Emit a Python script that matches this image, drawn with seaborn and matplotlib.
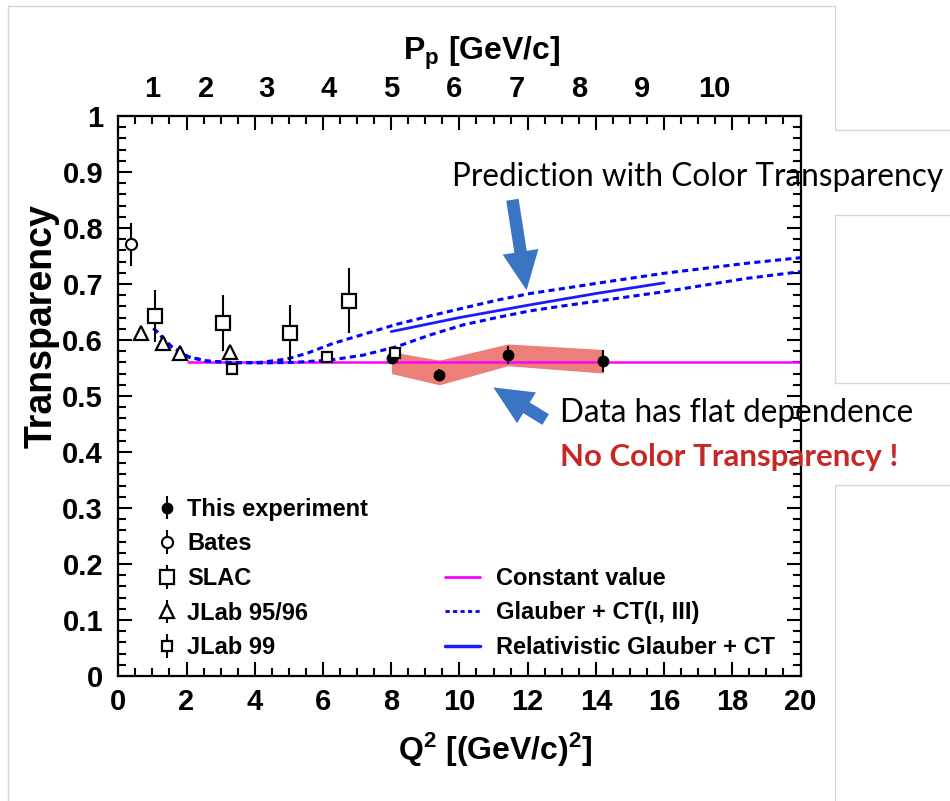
import numpy as np
import pandas as pd
import matplotlib
matplotlib.use("Agg")
import matplotlib.pyplot as plt
import seaborn as sns
from matplotlib.lines import Line2D
from matplotlib.ticker import MultipleLocator

# ---------------- data ----------------
this_q2 = [8.01, 9.41, 11.42, 14.22]
this_t = [0.567, 0.5375, 0.573, 0.5625]
this_err = [0.010, 0.010, 0.016, 0.019]
sys_lo = [0.540, 0.520, 0.554, 0.541]
sys_hi = [0.579, 0.564, 0.593, 0.583]

bates_q2 = [0.36]
bates_t = [0.771]
bates_err = [0.038]

slac_q2 = [1.08, 3.08, 5.03, 6.77]
slac_t = [0.643, 0.631, 0.612, 0.670]
slac_err = [0.047, 0.050, 0.050, 0.058]

jlab9596_q2 = [0.665, 1.32, 1.81, 3.27]
jlab9596_t = [0.613, 0.594, 0.576, 0.579]
jlab9596_err = [0.010, 0.010, 0.008, 0.010]

jlab99_q2 = [3.32, 6.13, 8.12]
jlab99_t = [0.549, 0.570, 0.576]
jlab99_err = [0.008, 0.008, 0.008]

const_q2 = [2.05, 20.0]
const_t = [0.56, 0.56]

ct_up_q2 = [1.03, 1.56, 2.05, 2.59, 3.37, 4.15, 4.94, 5.52, 6.3, 7.18, 8.16, 9.14,
            10.11, 11.09, 12.07, 13.05, 14.0, 15.98, 18.42, 20.0]
ct_up_t = [0.621, 0.588, 0.570, 0.5625, 0.5595, 0.560, 0.566, 0.576, 0.594, 0.610, 0.628,
           0.643, 0.657, 0.671, 0.683, 0.692, 0.701, 0.719, 0.737, 0.747]
ct_lo_q2 = [1.03, 1.56, 2.05, 2.59, 3.37, 4.15, 5.13, 6.2, 7.18, 8.16, 9.14, 10.11,
            11.09, 12.07, 13.05, 14.0, 15.98, 18.42, 20.0]
ct_lo_t = [0.621, 0.588, 0.570, 0.5625, 0.5595, 0.559, 0.560, 0.564, 0.573, 0.588, 0.609,
           0.627, 0.640, 0.652, 0.661, 0.669, 0.686, 0.710, 0.722]

rel_q2 = [8.0, 10.0, 12.0, 14.0, 16.0]
rel_t = [0.615, 0.640, 0.662, 0.683, 0.702]

x_ticks = [0, 2, 4, 6, 8, 10, 12, 14, 16, 18, 20]
y_ticks = [0, 0.1, 0.2, 0.3, 0.4, 0.5, 0.6, 0.7, 0.8, 0.9, 1.0]
y_tick_labels = ["0", "0.1", "0.2", "0.3", "0.4", "0.5", "0.6", "0.7", "0.8", "0.9", "1"]
p_labels = ["1", "2", "3", "4", "5", "6", "7", "8", "9", "10"]
p_label_q2 = [0.99, 2.58, 4.35, 6.16, 7.99, 9.83, 11.67, 13.51, 15.36, 17.47]

# ---------------- style ----------------
sns.set_theme(style="ticks")
plt.rcParams["font.family"] = ["Liberation Sans", "DejaVu Sans"]
plt.rcParams["font.weight"] = "bold"
plt.rcParams["text.color"] = "black"
plt.rcParams["axes.labelcolor"] = "black"
plt.rcParams["xtick.color"] = "black"
plt.rcParams["ytick.color"] = "black"
plt.rcParams["mathtext.fontset"] = "custom"
plt.rcParams["mathtext.rm"] = "Liberation Sans:bold"
plt.rcParams["mathtext.bf"] = "Liberation Sans:bold"
plt.rcParams["mathtext.it"] = "Liberation Sans:bold"

W, H = 950, 801
fig = plt.figure(figsize=(W / 100, H / 100), dpi=100, facecolor="white")
x0, x1, yb, yt = 118.3, 800.5, 676.0, 116.0
ax = fig.add_axes([x0 / W, 1 - yb / H, (x1 - x0) / W, (yb - yt) / H])
ax.set_facecolor("white")

# systematic band
ax.fill_between(this_q2, sys_lo, sys_hi, color="#ec7f77", lw=0, zorder=1)

# theory curves
sns.lineplot(x=const_q2, y=const_t, ax=ax, color="#ff00ff", lw=1.8, zorder=2)
sns.lineplot(x=ct_up_q2, y=ct_up_t, ax=ax, color="#0000ff", lw=2.2, sort=False,
             estimator=None, linestyle=(0, (2.0, 1.4)), zorder=2)
sns.lineplot(x=ct_lo_q2, y=ct_lo_t, ax=ax, color="#0000ff", lw=2.2, sort=False,
             estimator=None, linestyle=(0, (2.0, 1.4)), zorder=2)
sns.lineplot(x=rel_q2, y=rel_t, ax=ax, color="#1a1aff", lw=2.0, zorder=2)

# data points
eb = dict(ecolor="black", elinewidth=1.5, capsize=0, linestyle="none", zorder=4)
h_this = ax.errorbar(this_q2, this_t, yerr=this_err, fmt="o", ms=7.5, mfc="black",
                     mec="black", **eb)
h_bates = ax.errorbar(bates_q2, bates_t, yerr=bates_err, fmt="o", ms=8, mfc="white",
                      mec="black", mew=1.5, **eb)
h_slac = ax.errorbar(slac_q2, slac_t, yerr=slac_err, fmt="s", ms=9.5, mfc="white",
                     mec="black", mew=1.6, **eb)
h_j96 = ax.errorbar(jlab9596_q2, jlab9596_t, yerr=jlab9596_err, fmt="^", ms=9.5,
                    mfc="white", mec="black", mew=1.6, **eb)
h_j99 = ax.errorbar(jlab99_q2, jlab99_t, yerr=jlab99_err, fmt="s", ms=6.5, mfc="white",
                    mec="black", mew=1.6, **eb)

# axes
ax.set_xlim(0, 20)
ax.set_ylim(0, 1)
ax.set_xticks(x_ticks)
ax.set_xticklabels([str(t) for t in x_ticks])
ax.set_yticks(y_ticks)
ax.set_yticklabels(y_tick_labels)
ax.xaxis.set_minor_locator(MultipleLocator(0.5))
ax.yaxis.set_minor_locator(MultipleLocator(0.02))
ax.tick_params(which="both", direction="in", top=True, right=True, color="black",
               width=1.5, labelsize=21, labelcolor="black")
ax.tick_params(which="major", length=10)
ax.tick_params(which="minor", length=5.5)
ax.tick_params(axis="x", which="major", pad=9)
ax.tick_params(axis="y", which="major", pad=11)
for s in ax.spines.values():
    s.set_linewidth(1.6)
    s.set_color("black")

ax.text(-0.113, 0.625, "Transparency", transform=ax.transAxes, rotation=90,
        ha="center", va="center", fontsize=27, fontweight="bold", color="black")
ax.text(0.552, -0.15, r"Q$^{2}$ [(GeV/c)$^{2}$]", transform=ax.transAxes,
        ha="center", va="baseline", fontsize=23, fontweight="bold", color="black")
ax.text(0.532, 1.10, r"P$_{\rm p}$ [GeV/c]", transform=ax.transAxes,
        ha="center", va="baseline", fontsize=23, fontweight="bold", color="black")

sec = ax.secondary_xaxis("top")
sec.set_xticks(p_label_q2)
sec.set_xticklabels(p_labels)
sec.tick_params(length=0, labelsize=21, pad=9, labelcolor="black")
sec.spines["top"].set_visible(False)

# legends
leg1 = ax.legend([h_this, h_bates, h_slac, h_j96, h_j99],
                 ["This experiment", "Bates", "SLAC", "JLab 95/96", "JLab 99"],
                 loc="upper left", bbox_to_anchor=(0.054, 0.318), frameon=False,
                 fontsize=17, handlelength=1.0, handletextpad=0.35, labelspacing=0.49,
                 borderpad=0, borderaxespad=0, labelcolor="black")
ax.add_artist(leg1)
lh = [Line2D([], [], color="#ff00ff", lw=2.0),
      Line2D([], [], color="#0000ff", lw=2.0, linestyle=(0, (1.5, 1.2))),
      Line2D([], [], color="#1a1aff", lw=2.5)]
ax.legend(lh, ["Constant value", "Glauber + CT(I, III)", "Relativistic Glauber + CT"],
          loc="upper left", bbox_to_anchor=(0.479, 0.195), frameon=False,
          fontsize=17, handlelength=1.5, handletextpad=0.65, labelspacing=0.49,
          borderpad=0, borderaxespad=0, labelcolor="black")

# slide annotations
fig.text(452 / W, 1 - 177 / H, "Prediction with Color Transparency", fontsize=22.7,
         family=["Lato", "DejaVu Sans"], fontweight="normal", va="center", ha="left",
         color="black")
fig.text(560 / W, 1 - 413 / H, "Data has flat dependence", fontsize=22.7,
         family=["Lato", "DejaVu Sans"], fontweight="normal", va="center", ha="left",
         color="black")
fig.text(560 / W, 1 - 457 / H, "No Color Transparency !", fontsize=22.5,
         family=["Lato", "DejaVu Sans"], fontweight="bold", va="center", ha="left",
         color="#c62828")

arrow_kw = dict(arrowstyle="simple,head_length=1.4,head_width=1.3,tail_width=0.45",
                color="#3a75c4", lw=0, mutation_scale=20)
ax.annotate("", xy=(527, H - 293), xytext=(512, H - 197), xycoords="figure pixels",
            textcoords="figure pixels", arrowprops=arrow_kw, annotation_clip=False)
ax.annotate("", xy=(491, H - 386), xytext=(548, H - 421), xycoords="figure pixels",
            textcoords="figure pixels", arrowprops=arrow_kw, annotation_clip=False)

# faint slide frame lines
gc = "#d6d6d6"
fig.add_artist(Line2D([8 / W, 8 / W], [0, 1 - 6 / H], color=gc, lw=1.0))
fig.add_artist(Line2D([8 / W, 835 / W], [1 - 6 / H, 1 - 6 / H], color=gc, lw=1.0))
for ya, yb2 in [(6, 130), (215, 383), (485, 801)]:
    fig.add_artist(Line2D([835 / W, 835 / W], [1 - ya / H, 1 - yb2 / H], color=gc, lw=1.0))
for yy in [130, 215, 383, 485]:
    fig.add_artist(Line2D([835 / W, 1.0], [1 - yy / H, 1 - yy / H], color=gc, lw=1.0))

fig.savefig("out.png", dpi=100, facecolor="white")
